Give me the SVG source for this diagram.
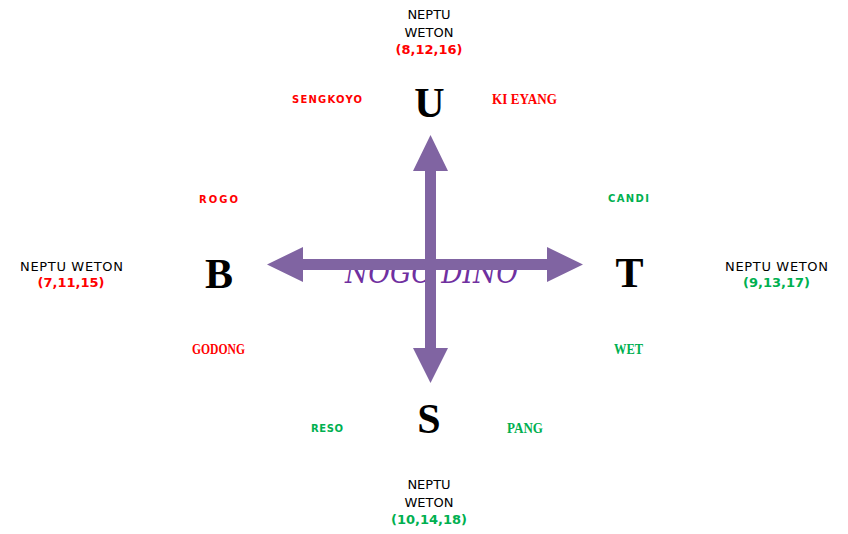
<svg xmlns="http://www.w3.org/2000/svg" width="848" height="534" viewBox="0 0 848 534">
<style>
.dir{font-family:"Liberation Serif","Times New Roman",serif;font-weight:bold;font-size:42px;fill:#000;text-anchor:middle}
.nw{font-family:"DejaVu Sans",Verdana,sans-serif;font-size:13px;fill:#000;text-anchor:middle}
.num{font-family:"DejaVu Sans",Verdana,sans-serif;font-size:13px;font-weight:bold;text-anchor:middle}
.sc{font-family:"DejaVu Sans",Verdana,sans-serif;font-weight:bold;font-size:10px;text-anchor:middle}
.cd{font-family:"Liberation Serif","Times New Roman",serif;font-weight:bold;font-size:15px;text-anchor:middle}
.red{fill:#FF0000}.grn{fill:#00B050}
</style>
<rect width="848" height="534" fill="#fff"/>
<text x="345" y="283" font-family="'DejaVu Serif',serif" font-style="italic" font-size="30" fill="#7030A0" textLength="173" lengthAdjust="spacingAndGlyphs">NOGO DINO</text>
<g id="connectors" fill="#8064A2">
<polygon points="430.5,135 448,171 436,171 436,348 448,348 430.5,383 413,348 425,348 425,171 413,171"/>
<polygon points="267,264.5 303,247 303,259 547,259 547,247 583,264.5 547,282 547,270 303,270 303,282"/>
</g>
<g id="north">
<text class="dir" x="429.5" y="117">U</text>
<text class="nw" x="429" y="19">NEPTU</text>
<text class="nw" x="429" y="37">WETON</text>
<text class="num red" x="429" y="54">(8,12,16)</text>
</g>
<g id="south">
<text class="dir" x="429" y="433">S</text>
<text class="nw" x="429" y="489">NEPTU</text>
<text class="nw" x="429" y="507">WETON</text>
<text class="num grn" x="429" y="524">(10,14,18)</text>
</g>
<g id="west">
<text class="dir" x="219" y="288">B</text>
<text class="nw" x="71.5" y="271" textLength="103">NEPTU WETON</text>
<text class="num red" x="71" y="287">(7,11,15)</text>
</g>
<g id="east">
<text class="dir" x="629.5" y="287">T</text>
<text class="nw" x="776.5" y="271" textLength="103">NEPTU WETON</text>
<text class="num grn" x="776.5" y="287">(9,13,17)</text>
</g>
<g id="sengkoyo"><text class="sc red" x="327" y="103" textLength="70">SENGKOYO</text></g>
<g id="kieyang"><text class="cd red" x="524.5" y="104" textLength="65" lengthAdjust="spacingAndGlyphs">KI EYANG</text></g>
<g id="rogo"><text class="sc red" x="218.5" y="203" textLength="39">ROGO</text></g>
<g id="candi"><text class="sc grn" x="628.5" y="202" textLength="41">CANDI</text></g>
<g id="godong"><text class="cd red" x="218.5" y="354" textLength="53" lengthAdjust="spacingAndGlyphs">GODONG</text></g>
<g id="wet"><text class="cd grn" x="628.5" y="354" textLength="29" lengthAdjust="spacingAndGlyphs">WET</text></g>
<g id="reso"><text class="sc grn" x="327" y="432" textLength="32">RESO</text></g>
<g id="pang"><text class="cd grn" x="525" y="433" textLength="36" lengthAdjust="spacingAndGlyphs">PANG</text></g>
</svg>
